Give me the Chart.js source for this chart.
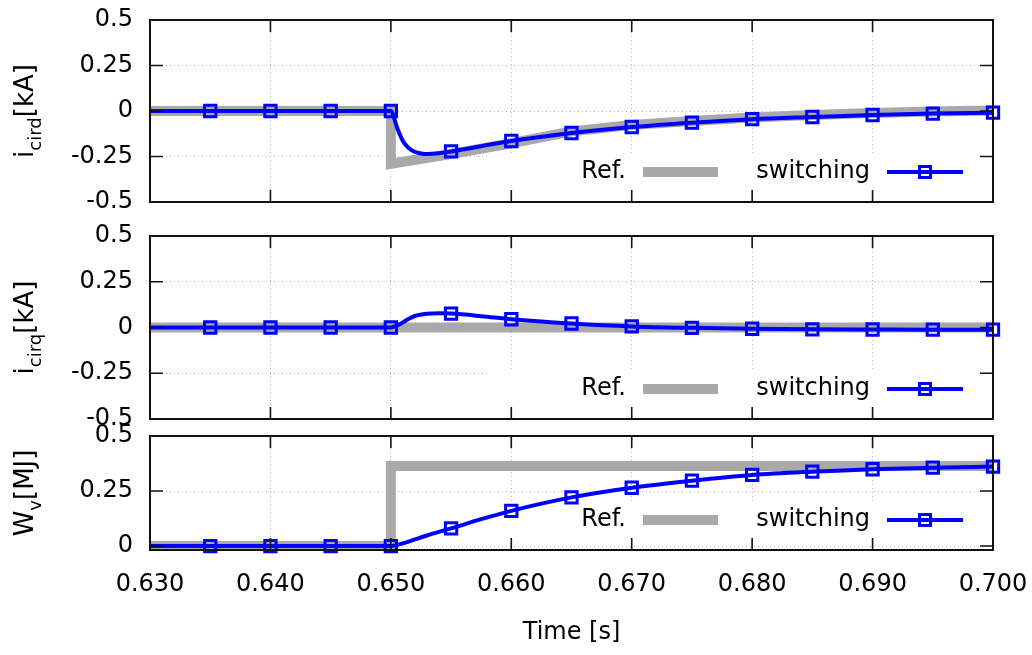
<!DOCTYPE html>
<html>
<head>
<meta charset="utf-8">
<script src="https://cdn.jsdelivr.net/npm/chart.js@4"></script>
<style>
  html, body { margin: 0; padding: 0; background: #fff; }
  #wrap { position: relative; width: 1032px; height: 655px; overflow: hidden; }
  canvas { position: absolute; left: 0; }
  #c1 { top: 0; }
  #c2 { top: 222px; }
  #c3 { top: 420px; }
</style>
</head>
<body>
<div id="wrap">
  <canvas id="c1" width="1032" height="222"></canvas>
  <canvas id="c2" width="1032" height="218"></canvas>
  <canvas id="c3" width="1032" height="235"></canvas>
</div>
<script>
// ---- data ----
const timeTicks = [0.63, 0.64, 0.65, 0.66, 0.67, 0.68, 0.69, 0.70];
const timeTickLabels = ['0.630', '0.640', '0.650', '0.660', '0.670', '0.680', '0.690', '0.700'];
const markerTimes = [0.635, 0.64, 0.645, 0.65, 0.655, 0.66, 0.665, 0.67, 0.675, 0.68, 0.685, 0.69, 0.695, 0.70];

const iTicks = [-0.5, -0.25, 0, 0.25, 0.5];
const iTickLabels = ['-0.5', '-0.25', '0', '0.25', '0.5'];
const wTicks = [0, 0.25, 0.5];
const wTickLabels = ['0', '0.25', '0.5'];

// i_cird
const refDTime = [0.63, 0.65, 0.65, 0.655, 0.66, 0.665, 0.67, 0.675, 0.68, 0.685, 0.69, 0.695, 0.70];
const refDValue = [0, 0, -0.29, -0.236, -0.177, -0.112, -0.077, -0.055, -0.036, -0.022, -0.011, -0.003, 0.003];
const swDTime = [0.63, 0.635, 0.64, 0.645, 0.65, 0.6505, 0.651, 0.6515, 0.652, 0.6525, 0.653, 0.654, 0.655, 0.66, 0.665, 0.67, 0.675, 0.68, 0.685, 0.69, 0.695, 0.70];
const swDValue = [0, 0, 0, 0, 0, -0.088, -0.165, -0.205, -0.225, -0.233, -0.236, -0.232, -0.222, -0.165, -0.121, -0.088, -0.064, -0.045, -0.033, -0.022, -0.014, -0.009];

// i_cirq
const refQTime = [0.63, 0.70];
const refQValue = [0, 0];
const swQTime = [0.63, 0.635, 0.64, 0.645, 0.65, 0.6505, 0.651, 0.6515, 0.652, 0.653, 0.654, 0.655, 0.6575, 0.66, 0.665, 0.67, 0.675, 0.68, 0.685, 0.69, 0.695, 0.70];
const swQValue = [0, 0, 0, 0, 0, 0.01, 0.028, 0.048, 0.063, 0.075, 0.078, 0.076, 0.062, 0.045, 0.022, 0.006, -0.002, -0.007, -0.01, -0.011, -0.012, -0.012];

// W_v
const refWTime = [0.63, 0.65, 0.65, 0.70];
const refWValue = [0, 0, 0.364, 0.364];
const swWTime = [0.63, 0.635, 0.64, 0.645, 0.65, 0.651, 0.652, 0.653, 0.655, 0.6575, 0.66, 0.665, 0.67, 0.675, 0.68, 0.685, 0.69, 0.695, 0.70];
const swWValue = [0, 0, 0, 0, 0, 0.012, 0.03, 0.048, 0.08, 0.122, 0.16, 0.221, 0.265, 0.297, 0.323, 0.338, 0.349, 0.356, 0.361];

const BLUE = '#0000ff';
const GREY = '#a9a9a9';
const FONT = 'DejaVu Sans';

Chart.defaults.font.family = FONT;
Chart.defaults.font.size = 24;
Chart.defaults.color = '#000';

const pts = (xs, ys) => xs.map((x, i) => ({ x: x, y: ys[i] }));
const isMarker = (x) => markerTimes.some(t => Math.abs(t - x) < 1e-9);

// gnuplot style frame with inward tick marks
const framePlugin = {
  id: 'frame',
  afterDraw(chart) {
    const a = chart.chartArea, ctx = chart.ctx;
    const xs = chart.scales.x, ys = chart.scales.y;
    ctx.save();
    ctx.strokeStyle = '#111';
    ctx.lineWidth = 1.6;
    ctx.beginPath();
    xs.ticks.forEach(t => {
      const px = xs.getPixelForValue(t.value);
      ctx.moveTo(px, a.bottom); ctx.lineTo(px, a.bottom - 12);
      ctx.moveTo(px, a.top); ctx.lineTo(px, a.top + 12);
    });
    ys.ticks.forEach(t => {
      const py = ys.getPixelForValue(t.value);
      ctx.moveTo(a.left, py); ctx.lineTo(a.left + 13, py);
      ctx.moveTo(a.right, py); ctx.lineTo(a.right - 13, py);
    });
    ctx.stroke();
    ctx.lineWidth = 2;
    ctx.strokeRect(a.left, a.top, a.right - a.left, a.bottom - a.top);
    ctx.restore();
  }
};

// key: "Ref. ====   switching -[]-"
const keyPlugin = {
  id: 'gnuKey',
  beforeDatasetsDraw(chart) {
    const a = chart.chartArea, ctx = chart.ctx;
    const y = a.bottom - 30;
    ctx.save();
    ctx.fillStyle = '#fff';
    ctx.fillRect(487, y - 17, a.right - 4 - 487, 34);
    ctx.restore();
  },
  afterDatasetsDraw(chart) {
    const a = chart.chartArea, ctx = chart.ctx;
    const y = a.bottom - 30;
    const ref = chart.data.datasets[1], sw = chart.data.datasets[0];
    ctx.save();
    ctx.font = '24px "' + FONT + '"';
    ctx.fillStyle = '#000';
    ctx.textAlign = 'right';
    ctx.textBaseline = 'middle';
    ctx.fillText(ref.label, a.right - 367, y);
    ctx.fillText(sw.label, a.right - 123, y);
    ctx.lineCap = 'butt';
    ctx.strokeStyle = ref.borderColor;
    ctx.lineWidth = ref.borderWidth;
    ctx.beginPath();
    ctx.moveTo(a.right - 350, y); ctx.lineTo(a.right - 275, y);
    ctx.stroke();
    ctx.strokeStyle = sw.borderColor;
    ctx.lineWidth = sw.borderWidth;
    ctx.beginPath();
    ctx.moveTo(a.right - 106, y); ctx.lineTo(a.right - 30, y);
    ctx.stroke();
    ctx.lineWidth = sw.pointBorderWidth;
    ctx.strokeRect(a.right - 68 - 5.5, y - 5.5, 11, 11);
    ctx.restore();
  }
};

// rotated y title with subscript
const yTitlePlugin = {
  id: 'yTitle',
  afterDraw(chart, args, opts) {
    const a = chart.chartArea, ctx = chart.ctx;
    ctx.save();
    const big = '26px "' + FONT + '"', small = '18px "' + FONT + '"';
    ctx.font = big;
    const w1 = ctx.measureText(opts.main).width;
    const w3 = ctx.measureText(opts.unit).width;
    ctx.font = small;
    const w2 = ctx.measureText(opts.sub).width;
    const total = w1 + w2 + w3;
    ctx.translate(33, (a.top + a.bottom) / 2);
    ctx.rotate(-Math.PI / 2);
    ctx.fillStyle = '#000';
    ctx.textBaseline = 'alphabetic';
    ctx.textAlign = 'left';
    let x = -total / 2;
    ctx.font = big;
    ctx.fillText(opts.main, x, 0);
    x += w1;
    ctx.font = small;
    ctx.fillText(opts.sub, x, 8);
    x += w2;
    ctx.font = big;
    ctx.fillText(opts.unit, x, 0);
    ctx.restore();
  }
};

function makePanel(canvasId, refData, swData, yCfg, title, pad, showX) {
  const ctx = document.getElementById(canvasId).getContext('2d');
  return new Chart(ctx, {
    type: 'line',
    data: {
      datasets: [{
        label: 'switching',
        data: swData,
        borderColor: BLUE,
        borderWidth: 4,
        cubicInterpolationMode: 'monotone',
        pointStyle: 'rect',
        pointRadius: c => isMarker(c.raw ? c.raw.x : NaN) ? 8 : 0,
        pointBorderWidth: 3,
        pointBorderColor: BLUE,
        pointBackgroundColor: 'rgba(0,0,0,0)',
        clip: false,
        order: 0
      }, {
        label: 'Ref.',
        data: refData,
        borderColor: GREY,
        borderWidth: 10,
        borderJoinStyle: 'miter',
        tension: 0,
        pointRadius: 0,
        clip: false,
        order: 1
      }]
    },
    options: {
      responsive: false,
      animation: false,
      events: [],
      layout: { padding: pad },
      plugins: {
        legend: { display: false },
        tooltip: { enabled: false },
        yTitle: title
      },
      scales: {
        x: {
          type: 'linear',
          min: 0.63,
          max: 0.70,
          afterBuildTicks: s => { s.ticks = timeTicks.map(v => ({ value: v })); },
          afterFit: s => {
            s.height = showX ? 105 : 0;
            s.paddingLeft = 0;
            s.paddingRight = 0;
          },
          grid: { color: '#b4b4b4', lineWidth: 1, drawTicks: false },
          border: { display: false, dash: [1, 3] },
          ticks: {
            display: showX,
            font: { size: 24 },
            padding: 20,
            maxRotation: 0,
            autoSkip: false,
            callback: (v, i) => timeTickLabels[i]
          },
          title: {
            display: showX,
            text: 'Time [s]',
            font: { size: 24 },
            padding: { top: 10, bottom: 8 }
          }
        },
        y: {
          min: yCfg.min,
          max: yCfg.max,
          afterBuildTicks: s => { s.ticks = yCfg.ticks.map(v => ({ value: v })); },
          afterFit: s => {
            s.width = 150;
            s.paddingTop = 0;
            s.paddingBottom = 0;
          },
          grid: { color: '#b4b4b4', lineWidth: 1, drawTicks: false },
          border: { display: false, dash: [1, 3] },
          ticks: {
            font: { size: 24 },
            padding: 17,
            autoSkip: false,
            callback: (v, i) => yCfg.labels[i]
          }
        }
      }
    },
    plugins: [keyPlugin, yTitlePlugin, framePlugin]
  });
}

makePanel('c1', pts(refDTime, refDValue), pts(swDTime, swDValue),
  { min: -0.5, max: 0.5, ticks: iTicks, labels: iTickLabels },
  { main: 'i', sub: 'cird', unit: '[kA]' },
  { top: 20, bottom: 20, left: 0, right: 39 }, false);

makePanel('c2', pts(refQTime, refQValue), pts(swQTime, swQValue),
  { min: -0.5, max: 0.5, ticks: iTicks, labels: iTickLabels },
  { main: 'i', sub: 'cirq', unit: '[kA]' },
  { top: 14, bottom: 21, left: 0, right: 39 }, false);

makePanel('c3', pts(refWTime, refWValue), pts(swWTime, swWValue),
  { min: -0.018, max: 0.5, ticks: wTicks, labels: wTickLabels },
  { main: 'W', sub: 'v', unit: '[MJ]' },
  { top: 16, bottom: 0, left: 0, right: 39 }, true);
</script>
</body>
</html>
